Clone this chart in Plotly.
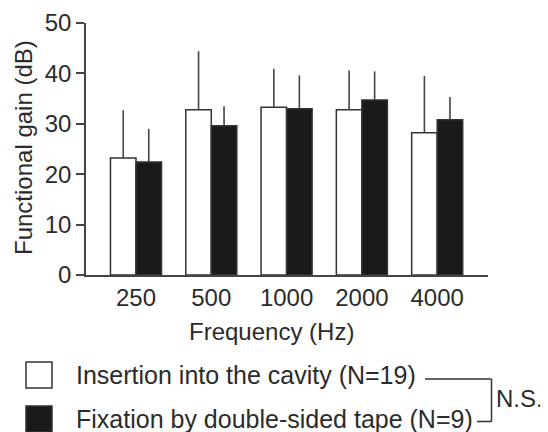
import plotly.graph_objects as go

# ---- data ----
frequencies = ["250", "500", "1000", "2000", "4000"]
series_names = ["Insertion into the cavity (N=19)", "Fixation by double-sided tape (N=9)"]
cavity_mean = [23.2, 32.8, 33.3, 32.8, 28.2]
cavity_sd = [9.5, 11.6, 7.6, 7.8, 11.3]
tape_mean = [22.4, 29.6, 33.0, 34.7, 30.8]
tape_sd = [6.6, 3.9, 6.6, 5.7, 4.5]
y_ticks = [0, 10, 20, 30, 40, 50]
x_title = "Frequency (Hz)"
y_title = "Functional gain (dB)"
sig_label = "N.S."

# ---- layout geometry (page body has an 8px margin) ----
OFF = 8
W, H = 540, 424
L, T = 86 - OFF, 23 - OFF
PLOT_R, PLOT_B = 488 - OFF, 275 - OFF
R, B = W - PLOT_R, H - PLOT_B
PW, PH = PLOT_R - L, PLOT_B - T
FONT = "Arial, Liberation Sans, sans-serif"
TXT = "#2b2b2b"
AX = "#444444"
FS = 24
FS_LEG = 25


def px(xp):
    """reference-window pixel x -> paper x"""
    return (xp - OFF - L) / PW


def py(yp):
    """reference-window pixel y -> paper y"""
    return (PLOT_B - (yp - OFF)) / PH


fills = ["#ffffff", "#1a1a1a"]
means = [cavity_mean, tape_mean]
sds = [cavity_sd, tape_sd]

fig = go.Figure()
for name, m, s, c in zip(series_names, means, sds, fills):
    fig.add_trace(go.Bar(
        x=frequencies, y=m, name=name,
        marker=dict(color=c, line=dict(color="#333333", width=1.5)),
        error_y=dict(type="data", array=s, arrayminus=[0] * len(s), symmetric=False,
                     color=AX, thickness=1.6, width=0),
        showlegend=False,
    ))

shapes = []
annotations = []

# legend (manual)
leg_rows = [375, 419]
for name, c, yc in zip(series_names, fills, leg_rows):
    shapes.append(dict(type="rect", xref="paper", yref="paper",
                       x0=px(26), x1=px(52), y0=py(yc - 13), y1=py(yc + 13),
                       fillcolor=c, line=dict(color="#333333", width=1.5)))
    annotations.append(dict(text=name, xref="paper", yref="paper",
                            x=px(74), y=py(yc), xanchor="left", yanchor="middle",
                            showarrow=False, font=dict(size=FS_LEG, color=TXT, family=FONT)))

# significance bracket
br = dict(color="#333333", width=1.5)
shapes += [
    dict(type="line", xref="paper", yref="paper", x0=px(425), x1=px(491.5), y0=py(379), y1=py(379), line=br),
    dict(type="line", xref="paper", yref="paper", x0=px(491.5), x1=px(491.5), y0=py(379), y1=py(421.5), line=br),
    dict(type="line", xref="paper", yref="paper", x0=px(477), x1=px(491.5), y0=py(421.5), y1=py(421.5), line=br),
]
annotations.append(dict(text=sig_label, xref="paper", yref="paper", x=px(494), y=py(398),
                        xanchor="left", yanchor="middle", showarrow=False,
                        font=dict(size=FS, color=TXT, family=FONT)))

# axis titles
annotations.append(dict(text=x_title, xref="paper", yref="paper", x=px(271), y=py(331),
                        xanchor="center", yanchor="middle", showarrow=False,
                        font=dict(size=FS, color=TXT, family=FONT)))
annotations.append(dict(text=y_title, xref="paper", yref="paper", x=px(23), y=py(148),
                        xanchor="center", yanchor="middle", textangle=-90, showarrow=False,
                        font=dict(size=FS, color=TXT, family=FONT)))

fig.update_layout(
    width=W, height=H,
    margin=dict(l=L, r=R, t=T, b=B, autoexpand=False),
    paper_bgcolor="white", plot_bgcolor="white",
    barmode="group", bargap=0.322, bargroupgap=0,
    font=dict(family=FONT, size=FS, color=TXT),
    shapes=shapes, annotations=annotations,
    xaxis=dict(type="category", range=[-0.664, 4.675], showline=True, linecolor=AX, linewidth=1.6,
               ticks="", showgrid=False, zeroline=False,
               tickfont=dict(size=FS, color=TXT, family=FONT)),
    yaxis=dict(range=[0, 50], tickvals=y_ticks, showline=True, linecolor=AX, linewidth=1.6,
               ticks="outside", ticklen=8, tickwidth=1.5, tickcolor=AX,
               showgrid=False, zeroline=False,
               tickfont=dict(size=FS, color=TXT, family=FONT)),
)

fig.write_html("out.html")
